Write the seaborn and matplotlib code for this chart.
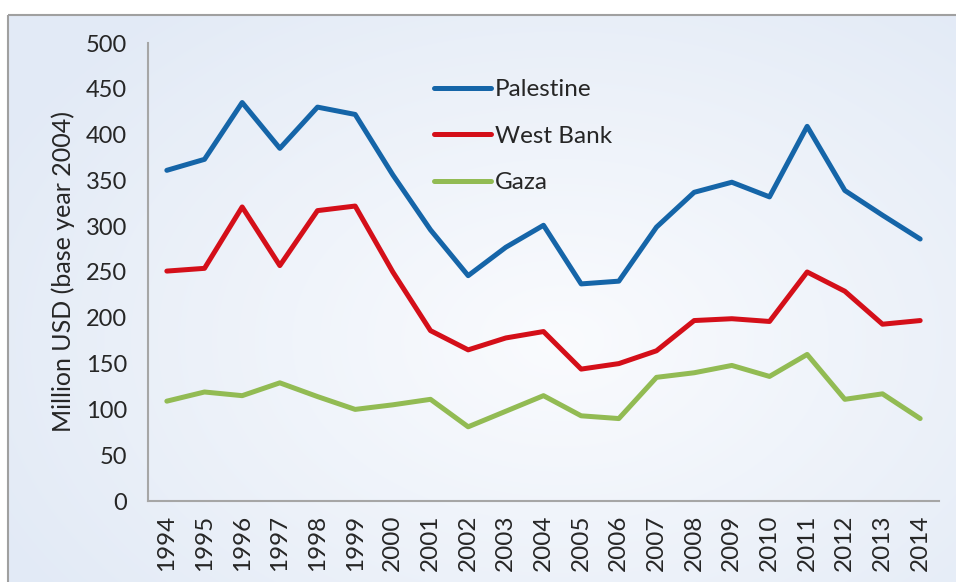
import matplotlib
matplotlib.use('Agg')
import matplotlib.pyplot as plt
import numpy as np
import pandas as pd
import seaborn as sns
from matplotlib.patches import Rectangle

years = list(range(1994, 2015))
palestine = [361, 373, 435, 385, 430, 422, 356, 296, 246, 277, 301, 237, 240, 299,
             337, 348, 332, 409, 339, 312, 286]
west_bank = [251, 254, 321, 257, 317, 322, 250, 186, 165, 178, 185, 144, 150, 164,
             197, 199, 196, 250, 229, 193, 197]
gaza = [109, 119, 115, 129, 114, 100, 105, 111, 81, 98, 115, 93, 90, 135,
        140, 148, 136, 160, 111, 117, 90]
series_names = ['Palestine', 'West Bank', 'Gaza']
colors = ['#1565a8', '#d40f19', '#92bb53']

df = pd.DataFrame({'year': years, 'Palestine': palestine,
                   'West Bank': west_bank, 'Gaza': gaza})
long_df = df.melt(id_vars='year', var_name='region', value_name='value')

sns.set_style('white')
plt.rcParams['font.family'] = ['Lato', 'DejaVu Sans']

fig = plt.figure(figsize=(9.56, 5.82), dpi=100)

# bakgrunn med radiell gradient og ramme
bg = fig.add_axes([0, 0, 1, 1], zorder=-5)
h, w = 582, 956
yy, xx = np.mgrid[0:h, 0:w]
r = np.sqrt(((xx - 560) / 620.0) ** 2 + ((yy - 340) / 420.0) ** 2)
r = np.clip(r, 0, 1)
c_in = np.array([0.98, 0.985, 0.995])
c_out = np.array([0.89, 0.92, 0.965])
img = c_in[None, None, :] * (1 - r[..., None]) + c_out[None, None, :] * r[..., None]
img[:14, :, :] = 1.0
img[:, :8, :] = 1.0
bg.imshow(img, extent=[0, w, h, 0], aspect='auto', interpolation='bilinear')
bg.add_patch(Rectangle((8.5, 14.5), 960, 600, fill=False, edgecolor='#a0a0a0', lw=1.5))
bg.set_xlim(0, w)
bg.set_ylim(h, 0)
bg.axis('off')

ax = fig.add_axes([148 / 956, 1 - 501 / 582, (939 - 148) / 956, (501 - 43) / 582])
ax.patch.set_alpha(0)
sns.lineplot(data=long_df, x='year', y='value', hue='region', hue_order=series_names,
             palette=colors, linewidth=3.6, ax=ax, legend=True)

ax.set_xlim(1993.5, 2014.5)
ax.set_ylim(0, 500)
ax.set_yticks(range(0, 501, 50))
ax.set_xticks(np.arange(1993.5, 2015, 1))
ax.set_xticklabels([])
ax.set_xticks(years, minor=True)
ax.set_xticklabels([str(y) for y in years], minor=True, rotation=90, fontsize=17.5)
ax.tick_params(axis='x', which='major', length=8, width=1.5, color='#a6a6a6', direction='out')
ax.tick_params(axis='x', which='minor', length=0, pad=10)
ax.tick_params(axis='y', length=8, width=1.5, color='#a6a6a6', direction='out',
               labelsize=17, pad=7)
for s in ['top', 'right']:
    ax.spines[s].set_visible(False)
for s in ['left', 'bottom']:
    ax.spines[s].set_color('#a6a6a6')
    ax.spines[s].set_linewidth(1.5)
ax.set_xlabel('')
ax.set_ylabel('Million USD (base year 2004)', fontsize=18, labelpad=8)

leg = ax.legend(loc='upper left', bbox_to_anchor=(0.334, 0.969), frameon=False,
                fontsize=17.5, handlelength=2.35, handletextpad=0.16, labelspacing=1.05)
for line in leg.get_lines():
    line.set_linewidth(3.6)

plt.savefig('out.png', dpi=100)
plt.close()
